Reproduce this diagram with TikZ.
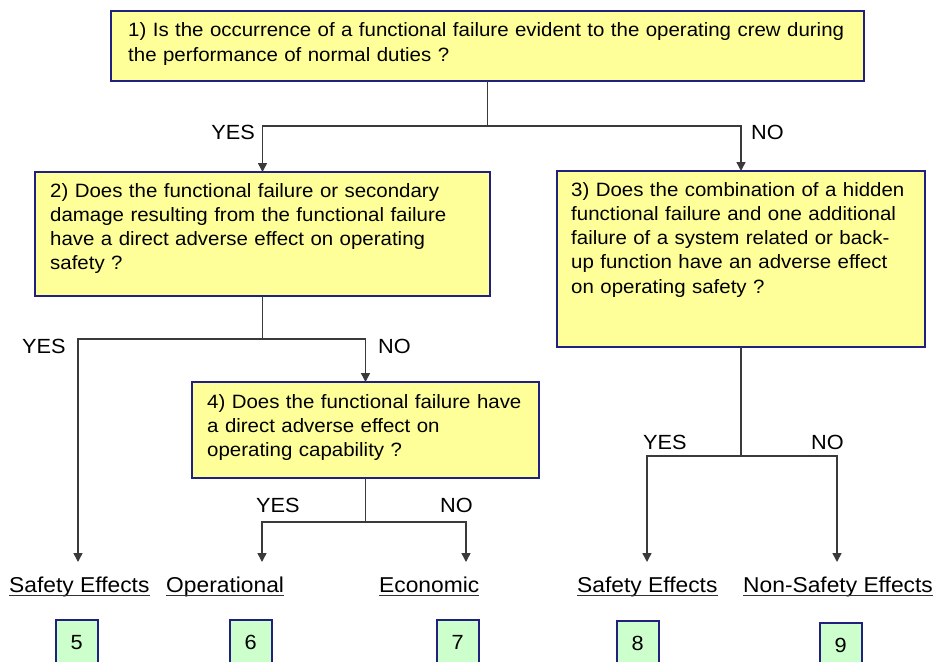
\documentclass[tikz,border=0pt]{standalone}
\usepackage{fontspec}
\setmainfont{Liberation Sans}[FakeStretch=1.06]
\usetikzlibrary{arrows.meta}
\definecolor{qfill}{HTML}{FFFF99}
\definecolor{qdraw}{HTML}{20207F}
\definecolor{gfill}{HTML}{CCFFCC}
\definecolor{lin}{HTML}{3A3A3A}
\begin{document}
\begin{tikzpicture}[x=1pt,y=-1pt,
  qbox/.style={draw=qdraw, fill=qfill, line width=1.5pt, inner sep=0pt, outer sep=0pt, anchor=north west},
  qtext/.style={anchor=base west, inner sep=0pt, align=left, text width=#1, font=\fontsize{19.3}{24.3}\selectfont},
  gbox/.style={draw=qdraw, fill=gfill, line width=1.5pt, inner sep=0pt, anchor=north west, minimum width=42pt, minimum height=45pt, font=\fontsize{20.5}{24}\selectfont},
  yn/.style={inner sep=0pt, font=\fontsize{20.5}{24}\selectfont},
  outc/.style={inner sep=0pt, anchor=base west, font=\fontsize{21.5}{25}\selectfont},
  conn/.style={draw=lin, line width=1.5pt},
  arr/.style={conn, -{Triangle[length=9pt,width=9pt]}},
  uline/.style={draw=black!80, line width=1.2pt}
]
\useasboundingbox (0,0) rectangle (936,661);
\clip (0,0) rectangle (936,661);
\fill[white] (0,0) rectangle (936,661);

% question boxes
\node[qbox, minimum width=753pt, minimum height=70pt] (b1) at (111,11) {};
\node[qbox, minimum width=455pt, minimum height=124pt] (b2) at (35,172) {};
\node[qbox, minimum width=368pt, minimum height=176pt] (b3) at (557,171) {};
\node[qbox, minimum width=347pt, minimum height=96pt] (b4) at (192,382) {};

\node[qtext=740pt] (t1) at (128,37) {1) Is the occurrence of a functional failure evident to the operating crew during\\the performance of normal duties ?};
\node[qtext=430pt] (t2) at (50,197) {2) Does the functional failure or secondary\\damage resulting from the functional failure\\have a direct adverse effect on operating\\safety ?};
\node[qtext=345pt] (t3) at (571,196) {3) Does the combination of a hidden\\functional failure and one additional\\failure of a system related or back-\\up function have an adverse effect\\on operating safety ?};
\node[qtext=325pt] (t4) at (207,408) {4) Does the functional failure have\\a direct adverse effect on\\operating capability ?};

% arrow ends
\coordinate (a5) at (78,562);
\coordinate (a6) at (262,562);
\coordinate (a7) at (466,562);
\coordinate (a8) at (647,562);
\coordinate (a9) at (837,562);

\draw[conn] (b1.south) -- ++(0,45) coordinate (j1);
\draw[arr] (j1) -| (b2.north);
\draw[arr] (j1) -| (b3.north);
\draw[conn] (b2.south) -- ++(0,43) coordinate (j2);
\draw[arr] (j2) -| (a5);
\draw[arr] (j2) -| (b4.north);
\draw[conn] (b4.south) -- ++(0,44) coordinate (j4);
\draw[arr] (j4) -| (a6);
\draw[arr] (j4) -| (a7);
\draw[conn] (b3.south) -- ++(0,109) coordinate (j3);
\draw[arr] (j3) -| (a8);
\draw[arr] (j3) -| (a9);

% YES / NO labels
\node[yn, anchor=base east] (y1) at (255,139) {YES};
\node[yn, anchor=base west] (n1) at (751,139) {NO};
\node[yn, anchor=base west] (y2) at (22,353) {YES};
\node[yn, anchor=base west] (n2) at (378,353) {NO};
\node[yn, anchor=base west] (y4) at (256,512) {YES};
\node[yn, anchor=base west] (n4) at (440,512) {NO};
\node[yn, anchor=base west] (y3) at (643,449) {YES};
\node[yn, anchor=base west] (n3) at (811,449) {NO};

% outcomes
\node[outc] (o5) at (9,592) {Safety Effects};
\node[outc] (o6) at (166,592) {Operational};
\node[outc] (o7) at (379,592) {Economic};
\node[outc] (o8) at (577,592) {Safety Effects};
\node[outc] (o9) at (743,592) {Non-Safety Effects};
\foreach \o in {o5,o6,o7,o8,o9}
  \draw[uline] ([yshift=-3.5pt]\o.base west) -- ([yshift=-3.5pt]\o.base east);

% numbered boxes
\node[gbox] (g5) at (55,619) {5};
\node[gbox] (g6) at (229,619) {6};
\node[gbox] (g7) at (436,619) {7};
\node[gbox] (g8) at (616,620) {8};
\node[gbox] (g9) at (819,622) {9};
\end{tikzpicture}
\end{document}
